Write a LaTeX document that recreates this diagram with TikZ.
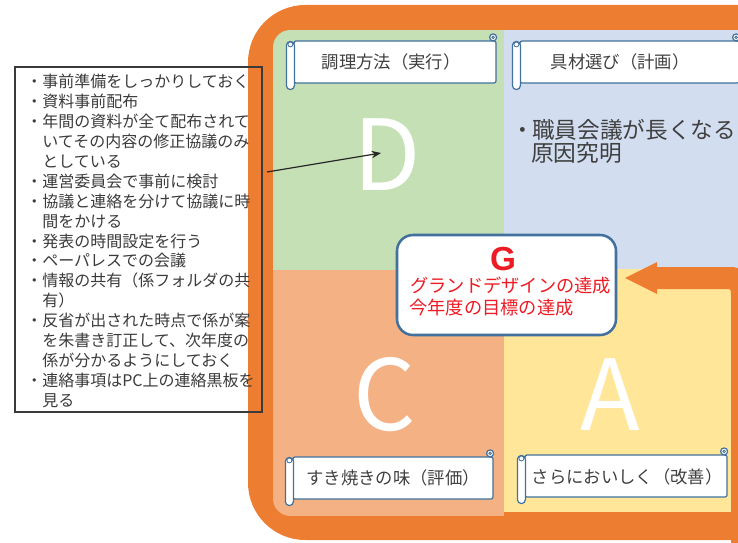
\documentclass[tikz,border=0pt]{standalone}
\usepackage{fontspec}
\setmainfont{Noto Sans CJK JP}
\newfontfamily\gfont{Liberation Sans}
\usetikzlibrary{calc,arrows.meta}
\definecolor{frameor}{HTML}{ED7D31}
\definecolor{qD}{HTML}{C5E0B4}
\definecolor{qP}{HTML}{D2DEF0}
\definecolor{qC}{HTML}{F4B183}
\definecolor{qA}{HTML}{FFE699}
\definecolor{scrollblue}{HTML}{41719C}
\definecolor{labelgray}{HTML}{404040}
\definecolor{notegray}{HTML}{3A3A3A}
\definecolor{gred}{HTML}{ED1C24}
\begin{document}
\begin{tikzpicture}[x=0.75pt,y=-0.75pt,
  scl/.style={draw=scrollblue, line width=0.9pt, fill=white},
  scrollbody/.style={scl, rounded corners=1.5pt, minimum height=42*0.75pt, inner sep=0pt},
  lbl/.style={text=labelgray, font=\fontsize{13}{15}\selectfont, inner sep=0pt, anchor=base},
  bigletter/.style={text=white, font=\fontsize{73.5}{80}\selectfont, inner sep=0pt, anchor=base},
  notetext/.style={text=notegray, font=\fontsize{12}{14}\selectfont, inner sep=0pt, anchor=base west},
  ptext/.style={text=labelgray, font=\fontsize{17}{20}\selectfont, inner sep=0pt, anchor=base west},
  redtext/.style={text=gred, font=\fontsize{13.7}{16}\selectfont, inner sep=0pt, anchor=base west},
]
\useasboundingbox (0,0) rectangle (738,542);
\clip (0,0) rectangle (738,542);
% outer orange frame
\fill[frameor, rounded corners=43pt] (248,5) rectangle (820,540);
% quadrants
\begin{scope}
  \clip[rounded corners=13pt] (273,30) rectangle (780,516);
  \fill[qD] (273,30) rectangle (504,270);
  \fill[qP] (504,30) rectangle (780,269);
  \fill[qC] (273,270) rectangle (504,516);
  \fill[qA] (504,269) rectangle (733,512);
\end{scope}
% bent arrow on the right
\fill[frameor] (625,278) -- (657,262) -- (657,267) -- (725,267)
  .. controls (741,267) .. (741,283) -- (741,545) -- (731,545) -- (731,295)
  .. controls (731,289) .. (725,289) -- (657,289) -- (657,294) -- cycle;
% big letters
\node[bigletter] (D) at (387,190) {D};
\node[bigletter] (C) at (385,430) {C};
\node[bigletter] (A) at (610,430) {A};
% scroll labels
\newcommand\scrollparts[1]{%
  \filldraw[scl] ($(#1.north east)+(-3.5,-3)$) circle (3.5);
  \draw[scrollblue, line width=0.6pt] ($(#1.north east)+(-3.5,-3)$) circle (1.3);
  \filldraw[scl, rounded corners=3pt] ($(#1.north west)+(-7,1)$) rectangle ($(#1.south west)+(1,6)$);
  \draw[scrollblue, line width=0.6pt] ($(#1.north west)+(-3,4)$) circle (2.5);
}
\node[scrollbody, minimum width=202*0.75pt] (s1) at (395,62) {};
\scrollparts{s1}
\node[lbl] (t1) at (391,68.6) {調理方法（実行）};
\node[scrollbody, minimum width=219*0.75pt] (s2) at (629.5,62) {};
\scrollparts{s2}
\node[lbl] (t2) at (620,68.6) {具材選び（計画）};
\node[scrollbody, minimum width=200*0.75pt] (s3) at (393,478) {};
\scrollparts{s3}
\node[lbl] (t3) at (393,484.6) {すき焼きの味（評価）};
\node[scrollbody, minimum width=202*0.75pt] (s4) at (626,476) {};
\scrollparts{s4}
\node[lbl] (t4) at (627,483.6) {さらにおいしく（改善）};
% plan text
\node[ptext] (pb) at (511,138.6) {・};
\node[ptext] (p1) at (532,138.6) {職員会議が長くなる};
\node[ptext] (p2) at (531,161.6) {原因究明};
% goal box
\node[draw=scrollblue, line width=1.9pt, fill=white, rounded corners=12pt,
  minimum width=219*0.75pt, minimum height=100*0.75pt, inner sep=0pt] (G) at (506.5,285) {};
\node[text=gred, font=\gfont\bfseries\fontsize{25}{30}\selectfont, inner sep=0pt, anchor=base] (Gl) at (503,270.5) {G};
\node[redtext] (g1) at (410,292.5) {グランドデザインの達成};
\node[redtext] (g2) at (409,314.5) {今年度の目標の達成};
% notes box
\node[draw=notegray, line width=0.8pt, minimum width=247*0.75pt, minimum height=345*0.75pt, inner sep=0pt] (notes) at (138.5,239.5) {};
\foreach \t [count=\i from 0] in {
  {・事前準備をしっかりしておく},
  {・資料事前配布},
  {・年間の資料が全て配布されて},
  {\phantom{・}いてその内容の修正協議のみ},
  {\phantom{・}としている},
  {・運営委員会で事前に検討},
  {・協議と連絡を分けて協議に時},
  {\phantom{・}間をかける},
  {・発表の時間設定を行う},
  {・ペーパレスでの会議},
  {・情報の共有（係フォルダの共},
  {\phantom{・}有）},
  {・反省が出された時点で係が案},
  {\phantom{・}を朱書き訂正して、次年度の},
  {\phantom{・}係が分かるようにしておく},
  {・連絡事項はPC上の連絡黒板を},
  {\phantom{・}見る}}
  \node[notetext] (n\i) at (26,88+\i*19.875) {\t};
% connector
\coordinate (as) at (267,172);
\coordinate (ae) at (381,153);
\draw[black!85, line width=0.9pt, -{Stealth[length=7pt,width=5.5pt]}] (as) -- (ae);
\end{tikzpicture}
\end{document}
